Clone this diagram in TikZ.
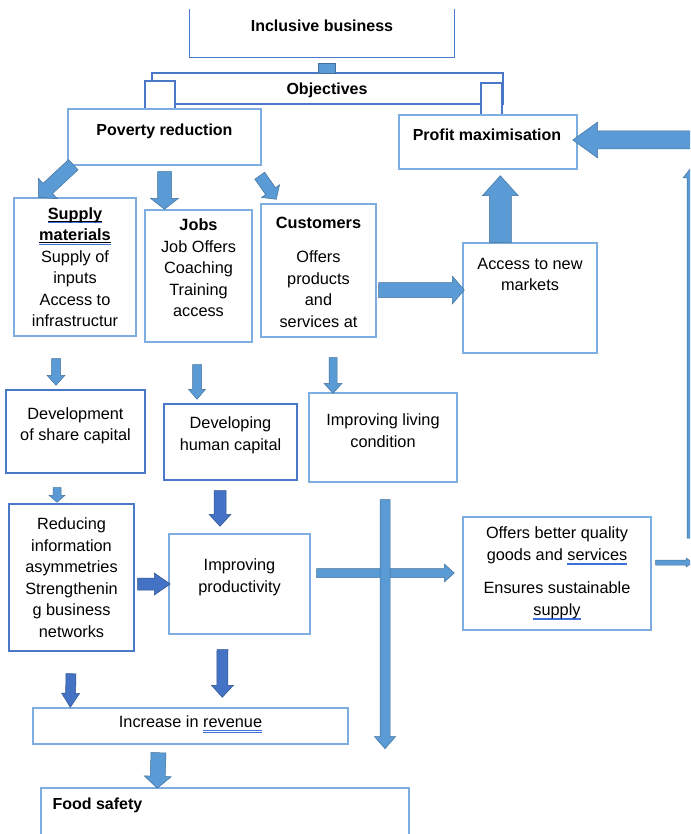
\documentclass[tikz,border=0pt]{standalone}
\usepackage{fontspec}
\setmainfont{Liberation Sans}
\usetikzlibrary{calc}
\definecolor{boxlight}{HTML}{7EAEDF}
\definecolor{boxdark}{HTML}{4A78C8}
\definecolor{arrowfill}{HTML}{5B9BD5}
\definecolor{arrowline}{HTML}{41719C}
\definecolor{darkfill}{HTML}{4472C4}
\definecolor{darkline}{HTML}{2F528F}
\definecolor{checkblue}{HTML}{3F6FD8}

\tikzset{
  box/.style={draw=boxlight, line width=1.4pt, fill=white, inner sep=0pt},
  darkbox/.style={box, draw=boxdark},
  txt/.style={align=center, font=\fontsize{16.3}{21.5}\selectfont, inner sep=0pt},
  head/.style={txt, font=\fontsize{16}{21.5}\selectfont\bfseries},
  lightarrow/.style={fill=arrowfill, draw=arrowline, line width=0.5pt},
  darkarrow/.style={fill=darkfill, draw=darkline, line width=0.5pt}
}

% underlines of the spelling and grammar checker
\newcommand{\gramu}[1]{\setbox0=\hbox{#1}\rlap{\color{checkblue}\rule[-3.2pt]{\wd0}{0.5pt}}\rlap{\color{checkblue}\rule[-4.6pt]{\wd0}{0.5pt}}#1}
\newcommand{\spellu}[1]{\setbox0=\hbox{#1}\rlap{\rule[-2.6pt]{\wd0}{0.9pt}}\rlap{\color{checkblue}\rule[-3.9pt]{\wd0}{0.5pt}}#1}

% #1 style, #2 start, #3 tip, #4 half shaft, #5 half head, #6 head length
\newcommand{\blockarrow}[6]{%
  \path #2 coordinate (ba-s) #3 coordinate (ba-e);
  \path ($(ba-e)!#6!(ba-s)$) coordinate (ba-h);
  \draw[#1] ($(ba-s)!#4!90:(ba-e)$) -- ($(ba-h)!#4!90:(ba-e)$) -- ($(ba-h)!#5!90:(ba-e)$)
    -- (ba-e) -- ($(ba-h)!#5!-90:(ba-e)$) -- ($(ba-h)!#4!-90:(ba-e)$) -- ($(ba-s)!#4!-90:(ba-e)$) -- cycle;}

\begin{document}
\begin{tikzpicture}[x=1pt,y=-1pt]
  \useasboundingbox (0,0) rectangle (690,834);
  \clip (0,0) rectangle (690,834);

  % top and objectives
  \node[box, draw=none, minimum width=264, minimum height=47] (ib) at (322,33.5) {};
  \draw[draw=boxdark, line width=1.4pt] (ib.north west) -- (ib.south west) -- (ib.south east) -- (ib.north east);
  \node[head] (ibT) at ($(ib)+(0,-7.5)$) {Inclusive business};
  \node[darkbox, minimum width=351, minimum height=31] (obj) at (327.5,88.5) {};
  \node[darkbox, minimum width=30, minimum height=28] (objL) at (160,95) {};
  \node[darkbox, minimum width=21, minimum height=32] (objR) at (491.5,99) {};
  \node[head] (objT) at (327,90) {Objectives};
  \draw[lightarrow] ($(ib.south)+(-3.5,6)$) rectangle ($(ib.south)+(13.5,16)$);

  \node[box, minimum width=193, minimum height=56] (pov) at (164.5,137) {};
  \node[head] (povT) at ($(pov)+(0,-6)$) {Poverty reduction};
  \node[box, minimum width=178, minimum height=54] (prof) at (488,142) {};
  \node[head] (profT) at ($(prof)+(-1,-7)$) {Profit maximisation};

  % second row
  \node[box, minimum width=122, minimum height=138] (supply) at (75,267) {};
  \node[txt] (supplyT) at (supply) {\textbf{\spellu{Supply}}\\\textbf{\spellu{materials}}\\Supply of\\inputs\\Access to\\infrastructur};
  \node[box, minimum width=107, minimum height=132] (jobs) at (198.5,276) {};
  \node[txt] (jobsT) at ($(jobs)+(0,-8)$) {\textbf{Jobs}\\Job Offers\\Coaching\\Training\\access};
  \node[box, minimum width=115, minimum height=133] (cust) at (318.5,270.5) {};
  \node[txt] (custT) at ($(cust)+(0,1.5)$) {\textbf{Customers}\\[13pt]Offers\\products\\and\\services at};
  \node[box, minimum width=134, minimum height=110] (market) at (530,298) {};
  \node[txt] (marketT) at ($(market)+(0,-23.5)$) {Access to new\\markets};

  % third row
  \node[darkbox, minimum width=139, minimum height=83] (share) at (75.5,431.5) {};
  \node[txt] (shareT) at ($(share)+(0,-5.5)$) {Development\\of share capital};
  \node[darkbox, minimum width=133, minimum height=76] (human) at (230.5,442) {};
  \node[txt] (humanT) at ($(human)+(0,-6.5)$) {Developing\\human capital};
  \node[box, minimum width=148, minimum height=89] (living) at (383,437.5) {};
  \node[txt] (livingT) at ($(living)+(0,-7)$) {Improving living\\condition};

  % fourth row
  \node[darkbox, minimum width=125, minimum height=147] (reduce) at (71.5,577.5) {};
  \node[txt] (reduceT) at (reduce) {Reducing\\information\\asymmetries\\Strengthenin\\g business\\networks};
  \node[box, minimum width=141, minimum height=100] (prod) at (239.5,584) {};
  \node[txt] (prodT) at ($(prod)+(0,-6.5)$) {Improving\\productivity};
  \node[box, minimum width=188, minimum height=113] (quality) at (557,573.5) {};
  \node[txt] (qualityT) at (quality) {Offers better quality\\goods and \gramu{services}\\[12pt]Ensures sustainable\\\gramu{supply}};

  % bottom
  \node[box, minimum width=315, minimum height=36] (revenue) at (190.5,726) {};
  \node[txt] (revenueT) at ($(revenue)+(0,-2)$) {Increase in \gramu{revenue}};
  \node[box, minimum width=368, minimum height=60] (food) at (225,818) {};
  \node[head, anchor=west] (foodT) at ($(food.north west)+(12,18)$) {Food safety};

  % free ends at the right edge
  \coordinate (edgeR) at (705,140);
  \coordinate (edgeS) at (693,562.5);
  \coordinate (edgeB) at (697,538);
  \coordinate (edgeT) at (697,160);

  % arrows
  \blockarrow{lightarrow}{($(pov.south west)+(6,-1)$)}{($(supply.north west)+(25,0)$)}{7pt}{14pt}{13pt}
  \blockarrow{lightarrow}{($(pov.south)+(0,6)$)}{(pov.south |- jobs.north)}{7pt}{14pt}{11pt}
  \blockarrow{lightarrow}{($(pov.south east)+(-2,10)$)}{($(cust.north west)+(16,-4)$)}{6pt}{11pt}{10pt}
  \blockarrow{lightarrow}{($(market.north west)+(38,0)$)}{($(prof.south west)+(102,6)$)}{11pt}{18pt}{20pt}
  \blockarrow{lightarrow}{($(cust.east)+(2,19.5)$)}{($(market.west)+(2,-8)$)}{7.5pt}{14pt}{12pt}
  \blockarrow{lightarrow}{(edgeR)}{($(prof.east)+(-5,-2)$)}{9pt}{18pt}{25pt}
  \blockarrow{lightarrow}{(edgeB)}{(edgeT)}{10pt}{14pt}{18pt}
  \blockarrow{lightarrow}{($(supply.south)+(-19,22)$)}{($(share.north)+(-19.5,-4)$)}{4.5pt}{9pt}{10pt}
  \blockarrow{lightarrow}{($(jobs.south)+(-1.5,22)$)}{($(human.north)+(-33.5,-4)$)}{4.5pt}{8.5pt}{10pt}
  \blockarrow{lightarrow}{($(cust.south)+(14.5,20)$)}{($(living.north)+(-50,1)$)}{4pt}{9pt}{10pt}
  \blockarrow{lightarrow}{($(share.south)+(-18.5,14)$)}{($(reduce.north)+(-14.5,-1)$)}{4pt}{8pt}{7pt}
  \blockarrow{darkarrow}{($(human.south)+(-10.5,10)$)}{($(prod.north)+(-19.5,-7)$)}{6pt}{11pt}{12pt}
  \blockarrow{darkarrow}{($(reduce.east)+(3,6.5)$)}{($(prod.west)+(2,0)$)}{6pt}{11pt}{16pt}
  \blockarrow{lightarrow}{($(prod.east)+(6,-11)$)}{($(quality.west)+(-8,-0.5)$)}{4.5pt}{9pt}{10pt}
  \blockarrow{lightarrow}{($(living.south)+(2,17)$)}{($(living.south)+(2,266)$)}{5pt}{10.5pt}{12pt}
  \blockarrow{lightarrow}{($(quality.east)+(4,-11)$)}{(edgeS)}{2.5pt}{4.5pt}{7pt}
  \blockarrow{darkarrow}{($(reduce.south)+(-0.5,22)$)}{($(revenue.north west)+(38,0)$)}{5pt}{9pt}{14pt}
  \blockarrow{darkarrow}{($(prod.south)+(-17,15)$)}{($(revenue.north west)+(190,-10)$)}{5.5pt}{11pt}{12pt}
  \blockarrow{lightarrow}{($(revenue.south)+(-32,8)$)}{($(food.north west)+(117,1)$)}{7.5pt}{13.5pt}{12pt}
\end{tikzpicture}
\end{document}
